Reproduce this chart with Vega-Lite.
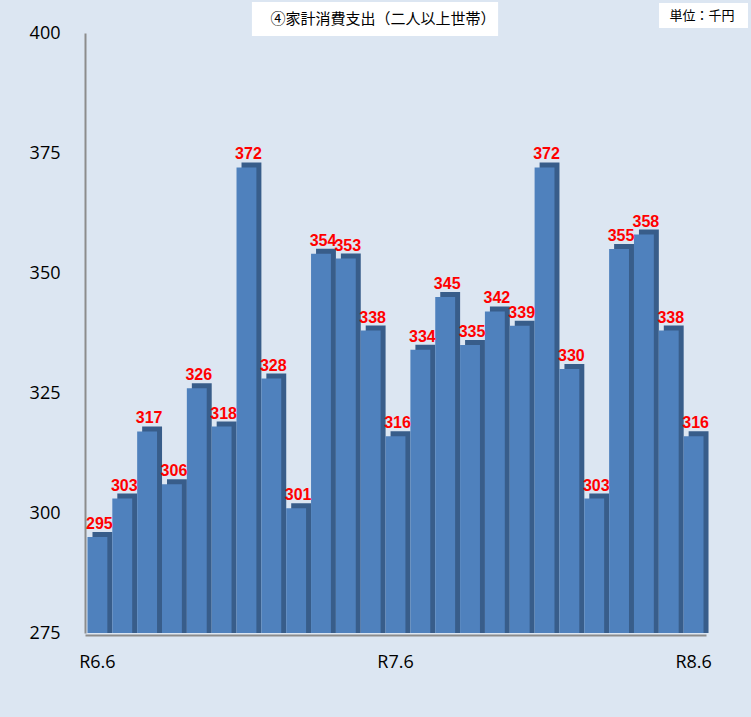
{
  "$schema": "https://vega.github.io/schema/vega-lite/v6.json",
  "autosize": {"type": "none"},
  "padding": {"left": 85, "top": 33, "right": 45, "bottom": 84},
  "width": 621,
  "height": 600,
  "background": "#dce6f2",
  "config": {"view": {"stroke": null}, "font": "Open Sans"},
  "data": {
    "values": [
      {"month": "R6.6", "value": 295},
      {"month": "R6.7", "value": 303},
      {"month": "R6.8", "value": 317},
      {"month": "R6.9", "value": 306},
      {"month": "R6.10", "value": 326},
      {"month": "R6.11", "value": 318},
      {"month": "R6.12", "value": 372},
      {"month": "R7.1", "value": 328},
      {"month": "R7.2", "value": 301},
      {"month": "R7.3", "value": 354},
      {"month": "R7.4", "value": 353},
      {"month": "R7.5", "value": 338},
      {"month": "R7.6", "value": 316},
      {"month": "R7.7", "value": 334},
      {"month": "R7.8", "value": 345},
      {"month": "R7.9", "value": 335},
      {"month": "R7.10", "value": 342},
      {"month": "R7.11", "value": 339},
      {"month": "R7.12", "value": 372},
      {"month": "R8.1", "value": 330},
      {"month": "R8.2", "value": 303},
      {"month": "R8.3", "value": 355},
      {"month": "R8.4", "value": 358},
      {"month": "R8.5", "value": 338},
      {"month": "R8.6", "value": 316}
    ]
  },
  "layer": [
    {
      "data": {"values": [{"title": "④家計消費支出（二人以上世帯）", "unit": "単位：千円"}]},
      "layer": [
        {
          "mark": {"type": "rect", "color": "white"},
          "encoding": {
            "x": {"datum": 6.72, "type": "quantitative", "scale": {"domain": [0, 25], "nice": false, "zero": false}, "axis": null},
            "x2": {"datum": 16.63},
            "y": {"datum": 399.375, "type": "quantitative", "scale": {"domain": [275, 400], "zero": false, "nice": false}},
            "y2": {"datum": 406.46}
          }
        },
        {
          "mark": {"type": "rect", "color": "white"},
          "encoding": {
            "x": {"datum": 23.11, "type": "quantitative", "scale": {"domain": [0, 25], "nice": false, "zero": false}},
            "x2": {"datum": 26.69},
            "y": {"datum": 401.04, "type": "quantitative"},
            "y2": {"datum": 406.25}
          }
        },
        {
          "mark": {"type": "text", "font": "Noto Sans CJK JP", "fontSize": 15, "color": "black"},
          "encoding": {
            "x": {"datum": 12.0, "type": "quantitative", "scale": {"domain": [0, 25], "nice": false, "zero": false}},
            "y": {"datum": 402.92, "type": "quantitative"},
            "text": {"field": "title"}
          }
        },
        {
          "mark": {"type": "text", "font": "Noto Sans CJK JP", "fontSize": 13, "color": "black"},
          "encoding": {
            "x": {"datum": 24.84, "type": "quantitative", "scale": {"domain": [0, 25], "nice": false, "zero": false}},
            "y": {"datum": 403.54, "type": "quantitative"},
            "text": {"field": "unit"}
          }
        }
      ]
    },
    {
      "encoding": {
        "x": {
          "field": "month",
          "type": "ordinal",
          "sort": null,
          "scale": {"paddingInner": 0.2, "paddingOuter": 0.1},
          "axis": {
            "orient": "bottom",
            "offset": 2,
            "title": null,
            "labelAngle": 0,
            "ticks": false,
            "labelOverlap": false,
            "labelExpr": "indexof(['R6.6', 'R7.6', 'R8.6'], datum.value) >= 0 ? datum.value : ''",
            "labelFontSize": 18,
            "labelColor": "black",
            "labelPadding": 18,
            "domainColor": "#8c8c8c",
            "domainWidth": 2
          }
        },
        "y": {
          "field": "value",
          "type": "quantitative",
          "scale": {"domain": [275, 400], "zero": false, "nice": false},
          "axis": {
            "title": null,
            "values": [275, 300, 325, 350, 375, 400],
            "grid": false,
            "ticks": false,
            "labelFontSize": 18,
            "labelColor": "black",
            "labelPadding": 25,
            "domainColor": "#8c8c8c",
            "domainWidth": 2
          }
        }
      },
      "layer": [
        {
          "mark": {"type": "bar", "color": "#385d8a", "xOffset": 5, "x2Offset": 5, "yOffset": -5, "y2Offset": 0},
          "encoding": {"y2": {"datum": 275}}
        },
        {
          "mark": {"type": "bar", "color": "#4f81bd"},
          "encoding": {"y2": {"datum": 275}}
        },
        {
          "mark": {"type": "text", "color": "red", "font": "Liberation Sans", "fontWeight": "bold", "fontSize": 16, "dx": 2, "dy": -8, "baseline": "alphabetic"},
          "encoding": {"text": {"field": "value", "type": "quantitative"}}
        }
      ]
    }
  ],
  "resolve": {"scale": {"x": "independent"}}
}
